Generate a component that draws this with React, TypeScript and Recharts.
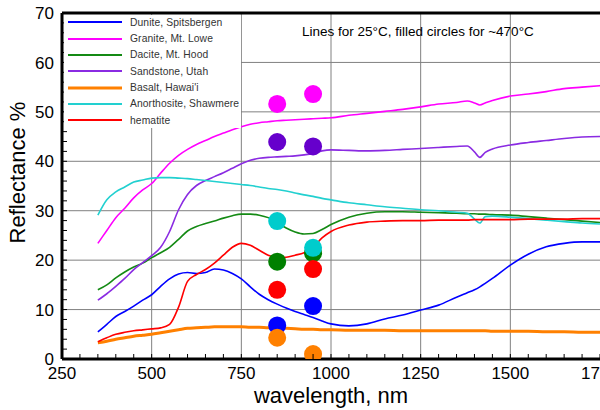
import React from 'react';
import { ComposedChart, Line, Scatter, XAxis, YAxis, CartesianGrid, ReferenceLine, Legend } from 'recharts';

const wavelengths = [350,375,400,425,450,475,500,525,550,575,600,625,650,675,700,725,750,775,800,825,850,875,900,925,950,975,1000,1050,1100,1150,1200,1250,1300,1350,1380,1400,1415,1430,1450,1500,1550,1600,1650,1700,1750];

const dunite = [5.5,7.0,8.6,9.6,10.7,11.9,13.0,14.7,16.2,17.2,17.5,17.3,17.5,18.2,18.0,17.3,16.2,14.6,13.1,12.0,11.1,10.3,9.6,9.0,8.4,7.7,7.1,6.7,7.1,8.1,8.9,9.9,10.9,12.5,13.4,14.0,14.6,15.3,16.3,19.0,21.2,22.7,23.4,23.7,23.7];
const granite = [23.4,26.0,28.6,30.5,32.6,34.2,35.5,37.6,39.6,41.2,42.4,43.4,44.2,45.0,45.7,46.4,47.0,47.5,47.8,48.0,48.2,48.3,48.4,48.5,48.6,48.7,48.8,49.3,49.7,50.1,50.5,51.0,51.6,51.9,52.2,51.8,51.4,51.8,52.3,53.2,53.6,54.1,54.7,55.0,55.3];
const dacite = [14.0,15.0,16.4,17.6,18.6,19.4,20.5,21.5,22.6,24.2,25.9,26.8,27.4,27.9,28.5,29.0,29.3,29.3,29.1,28.6,27.6,26.5,25.7,25.3,25.4,26.2,27.2,28.7,29.5,29.8,29.8,29.7,29.6,29.5,29.4,29.4,29.3,29.3,29.2,29.1,28.8,28.5,28.2,27.9,27.6];
const sandstone = [11.9,13.2,14.7,16.3,18.1,19.5,20.9,22.6,25.8,30.2,33.3,35.1,36.1,36.9,37.7,38.6,39.5,40.2,40.6,40.8,40.9,41.0,41.1,41.3,41.6,42.1,42.3,42.2,42.1,42.2,42.4,42.6,42.8,43.0,43.1,41.9,40.8,41.8,42.5,43.3,43.8,44.2,44.6,44.9,45.0];
const basalt = [3.3,3.6,4.0,4.3,4.6,4.8,5.0,5.3,5.6,5.9,6.2,6.3,6.4,6.5,6.5,6.5,6.5,6.4,6.4,6.3,6.3,6.2,6.1,6.0,6.0,5.9,5.9,5.8,5.8,5.8,5.7,5.7,5.7,5.7,5.7,5.7,5.7,5.7,5.6,5.6,5.6,5.5,5.5,5.4,5.4];
const anorthosite = [29.1,32.2,33.8,34.8,35.8,36.2,36.6,36.7,36.7,36.6,36.5,36.3,36.1,35.9,35.7,35.5,35.3,35.1,34.8,34.5,34.3,34.0,33.6,33.2,32.9,32.5,32.2,31.6,31.2,30.8,30.5,30.2,30.0,29.7,29.5,28.3,27.5,28.8,28.9,28.7,28.4,28.1,27.8,27.5,27.3];
const hematite = [3.5,4.3,5.0,5.4,5.7,5.9,6.1,6.3,7.0,10.5,15.7,17.1,18.1,19.4,21.0,22.6,23.4,23.0,22.0,21.0,20.5,20.6,21.0,21.5,22.6,24.5,25.8,27.1,27.7,27.9,28.0,28.0,28.1,28.1,28.1,28.2,28.2,28.2,28.2,28.2,28.3,28.3,28.3,28.4,28.4];

// hot measurements (~470°C) at 850 nm and 950 nm
const hotWavelengths = [850, 950];
const duniteHot = [6.8, 10.7];
const graniteHot = [51.6, 53.6];
const daciteHot = [19.7, 21.4];
const sandstoneHot = [43.9, 43.0];
const basaltHot = [4.3, 1.0];
const anorthositeHot = [27.9, 22.5];
const hematiteHot = [14.0, 18.2];

const seriesNames = ['Dunite, Spitsbergen', 'Granite, Mt. Lowe', 'Dacite, Mt. Hood', 'Sandstone, Utah', "Basalt, Hawai'i", 'Anorthosite, Shawmere', 'hematite'];
const seriesKeys = ['dunite', 'granite', 'dacite', 'sandstone', 'basalt', 'anorthosite', 'hematite'];
const lineColors = ['#0000ff', '#ff00ff', '#148a14', '#8a2be2', '#ff8000', '#22d0d0', '#ff0000'];
const dotColors = ['#0000ff', '#ff00ff', '#008000', '#6600cc', '#ff8000', '#00cccc', '#ff0000'];
const lineWidths = [1.6, 1.6, 1.6, 1.6, 3, 1.6, 1.6];
const seriesValues = [dunite, granite, dacite, sandstone, basalt, anorthosite, hematite];
const hotValues = [duniteHot, graniteHot, daciteHot, sandstoneHot, basaltHot, anorthositeHot, hematiteHot];

const xTicks = Array.from({ length: 31 }, (_, i) => 250 + i * 50);
const yTicks = Array.from({ length: 36 }, (_, i) => i * 2);
const xGrid = [500, 750, 1000, 1250, 1500];
const yGrid = [10, 20, 30, 40, 50, 60];

const chartData = wavelengths.map((wl, i) => {
  const row: Record<string, number> = { wl };
  seriesKeys.forEach((k, j) => { row[k] = seriesValues[j][i]; });
  return row;
});

const hotData = seriesKeys.map((_, j) => hotWavelengths.map((wl, i) => ({ wl, r: hotValues[j][i] })));

const FONT = '"Liberation Sans", Arial, Helvetica, sans-serif';

const XTick = (props: any) => {
  const { x, y, payload } = props;
  const v = payload.value;
  const major = v % 250 === 0;
  return (
    <g>
      <line x1={x} x2={x} y1={y - 8} y2={y - 13} stroke="#000" strokeWidth={1} />
      {major && (
        <text x={x} y={y} dy="0.71em" textAnchor="middle" fontSize={17} fontFamily={FONT} fill="#000">{v}</text>
      )}
    </g>
  );
};

const YTick = (props: any) => {
  const { x, y, payload } = props;
  const v = payload.value;
  const major = v % 10 === 0;
  return (
    <g>
      <line x1={x + 8} x2={x + 13} y1={y} y2={y} stroke="#000" strokeWidth={1} />
      {major && (
        <text x={x} y={y} dy="0.36em" textAnchor="end" fontSize={17} fontFamily={FONT} fill="#000">{v}</text>
      )}
    </g>
  );
};

const LegendBox = () => (
  <div style={{ position: 'relative', width: 177, height: 113, background: '#fff', fontFamily: FONT }}>
    {seriesNames.map((name, i) => (
      <div key={name} style={{ position: 'absolute', left: 0, top: 7.3 + i * 16.3 - 8, height: 16, display: 'flex', alignItems: 'center' }}>
        <svg width={62} height={16} style={{ display: 'block' }}>
          <line x1={4} x2={58} y1={8} y2={8} stroke={lineColors[i]} strokeWidth={i === 4 ? 3 : 2} />
        </svg>
        <span style={{ fontSize: 10.3, color: '#333', marginLeft: 4, whiteSpace: 'nowrap', letterSpacing: 0.1 }}>{name}</span>
      </div>
    ))}
  </div>
);

const YLabel = () => (
  <text transform="translate(25,172.5) rotate(-90)" textAnchor="middle" fontSize={22} fontFamily={FONT} fill="#000">Reflectance %</text>
);

export default function App() {
  return (
    <div style={{ position: 'fixed', left: 0, top: 0, width: 600, height: 410, overflow: 'hidden', background: '#fff' }}>
      <ComposedChart width={650} height={410} data={chartData} margin={{ top: 13, right: 50, bottom: 0, left: 0 }}>
        <CartesianGrid stroke="#808080" strokeWidth={1} horizontalValues={yGrid} verticalValues={xGrid} />
        <XAxis
          dataKey="wl"
          type="number"
          domain={[250, 1750]}
          ticks={xTicks}
          interval={0}
          height={51}
          tickSize={6}
          tickMargin={2}
          tickLine={false}
          tick={<XTick />}
          axisLine={{ stroke: '#000', strokeWidth: 3 }}
          allowDataOverflow
          label={{ value: 'wavelength, nm', position: 'insideBottom', offset: 7, fontSize: 22, fill: '#000', fontFamily: FONT }}
        />
        <YAxis
          type="number"
          domain={[0, 70]}
          ticks={yTicks}
          interval={0}
          width={62}
          tickSize={6}
          tickMargin={2}
          tickLine={false}
          tick={<YTick />}
          axisLine={{ stroke: '#000', strokeWidth: 3 }}
          allowDataOverflow
          label={{ content: () => <YLabel /> }}
        />
        <ReferenceLine y={70} stroke="#000" strokeWidth={3} />
        {seriesKeys.map((k, j) => (
          <Line
            key={k}
            dataKey={k}
            name={seriesNames[j]}
            type="monotone"
            stroke={lineColors[j]}
            strokeWidth={lineWidths[j]}
            dot={false}
            activeDot={false}
            isAnimationActive={false}
            legendType="line"
          />
        ))}
        {seriesKeys.map((k, j) => (
          <Scatter
            key={k + '-hot'}
            data={hotData[j]}
            dataKey="r"
            fill={dotColors[j]}
            legendType="none"
            isAnimationActive={false}
            shape={(p: any) => <circle cx={p.cx} cy={p.cy} r={9} fill={dotColors[j]} />}
          />
        ))}
        <Legend
          layout="vertical"
          align="center"
          verticalAlign="middle"
          content={() => <LegendBox />}
          wrapperStyle={{ left: 64, top: 15, width: 177, height: 113 }}
        />
      </ComposedChart>
      <div style={{ position: 'absolute', left: 302, top: 23.7, fontFamily: FONT, fontSize: 13.5, lineHeight: '15px', color: '#000', whiteSpace: 'nowrap' }}>
        Lines for 25°C, filled circles for ~470°C
      </div>
    </div>
  );
}
